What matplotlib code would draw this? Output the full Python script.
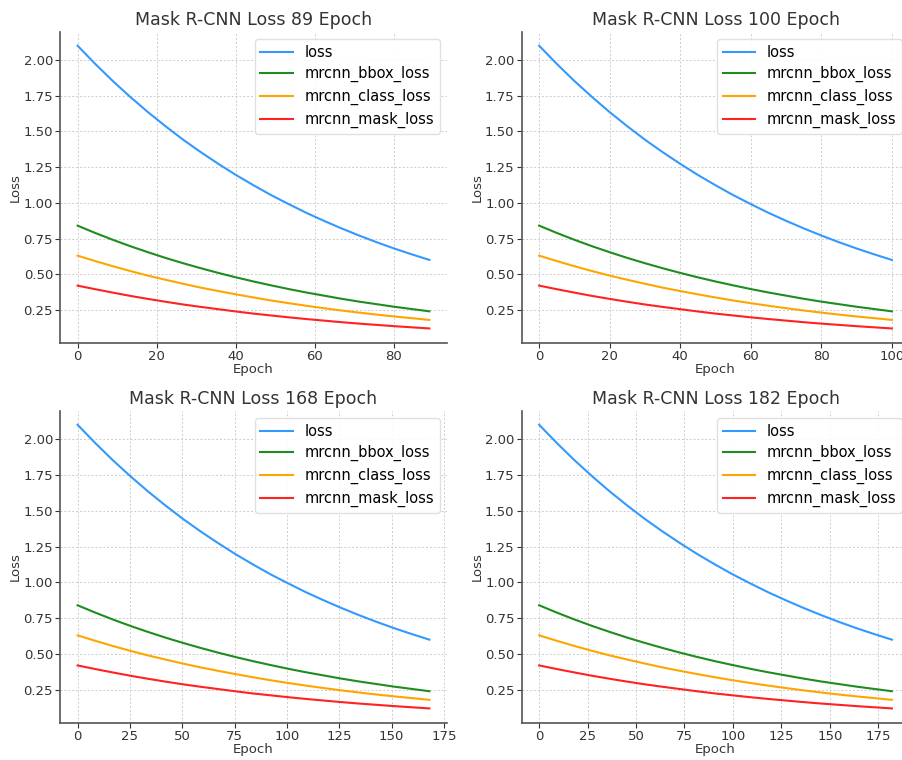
import matplotlib
matplotlib.use("Agg")
import matplotlib.pyplot as plt

# Run lengths (last epoch index) of the four trainings
runs = [89, 100, 168, 182]
titles = ["Mask R-CNN Loss 89 Epoch", "Mask R-CNN Loss 100 Epoch",
          "Mask R-CNN Loss 168 Epoch", "Mask R-CNN Loss 182 Epoch"]

# Values read at fractions of each run (curves share the same shape in all panels)
progress = [0.0, 0.05, 0.1, 0.15, 0.2, 0.25, 0.3, 0.35, 0.4, 0.45, 0.5,
            0.55, 0.6, 0.65, 0.7, 0.75, 0.8, 0.85, 0.9, 0.95, 1.0]
loss = [2.100, 1.973, 1.853, 1.741, 1.635, 1.536, 1.442, 1.355, 1.273, 1.195, 1.123,
        1.054, 0.991, 0.930, 0.874, 0.821, 0.771, 0.724, 0.680, 0.639, 0.600]
bbox_loss = [0.840, 0.789, 0.741, 0.696, 0.654, 0.614, 0.577, 0.542, 0.509, 0.478, 0.449,
             0.422, 0.396, 0.372, 0.350, 0.328, 0.308, 0.290, 0.272, 0.256, 0.240]
class_loss = [0.630, 0.592, 0.556, 0.522, 0.490, 0.461, 0.433, 0.406, 0.382, 0.359, 0.337,
              0.316, 0.297, 0.279, 0.262, 0.246, 0.231, 0.217, 0.204, 0.192, 0.180]
mask_loss = [0.420, 0.395, 0.371, 0.348, 0.327, 0.307, 0.288, 0.271, 0.255, 0.239, 0.224,
             0.211, 0.198, 0.186, 0.175, 0.164, 0.154, 0.145, 0.136, 0.128, 0.120]

series = [("loss", loss, "#3399ff"),
          ("mrcnn_bbox_loss", bbox_loss, "#1f8c1f"),
          ("mrcnn_class_loss", class_loss, "#ffa500"),
          ("mrcnn_mask_loss", mask_loss, "#ff2222")]

fig = plt.figure(figsize=(9.03, 7.6), dpi=100)
W, H = 903.0, 760.0
boxes = [(60, 31.6, 387, 311), (521.5, 31.6, 388, 311),
         (60, 410.6, 387, 312), (521.5, 410.6, 388, 312)]

for i, (n, title) in enumerate(zip(runs, titles)):
    x0, y0, w, h = boxes[i]
    ax = fig.add_axes([x0 / W, 1 - (y0 + h) / H, w / W, h / H])
    epochs = [p * n for p in progress]
    for name, vals, col in series:
        ax.plot(epochs, vals, color=col, lw=1.5, label=name)
    ax.set_title(title, fontsize=12.5, color="#333333", pad=5)
    ax.set_xlabel("Epoch", fontsize=9.5, color="#333333", labelpad=0)
    ax.set_ylabel("Loss", fontsize=9.5, color="#333333", labelpad=1)
    ax.grid(True, linestyle=(0, (2, 2)), color="#cccccc", lw=0.7)
    for s in ["top", "right"]:
        ax.spines[s].set_visible(False)
    for s in ["left", "bottom"]:
        ax.spines[s].set_color("#555555")
        ax.spines[s].set_linewidth(1.2)
    ax.tick_params(labelsize=9.5, colors="#333333", length=3.5, pad=1.5)
    ax.set_yticks([0.25, 0.5, 0.75, 1.0, 1.25, 1.5, 1.75, 2.0])
    ax.legend(loc="upper right", fontsize=10.5, frameon=True, framealpha=0.9,
              edgecolor="#dddddd", handlelength=2.2, borderpad=0.4, labelspacing=0.45)

fig.savefig("out.png", dpi=100)
